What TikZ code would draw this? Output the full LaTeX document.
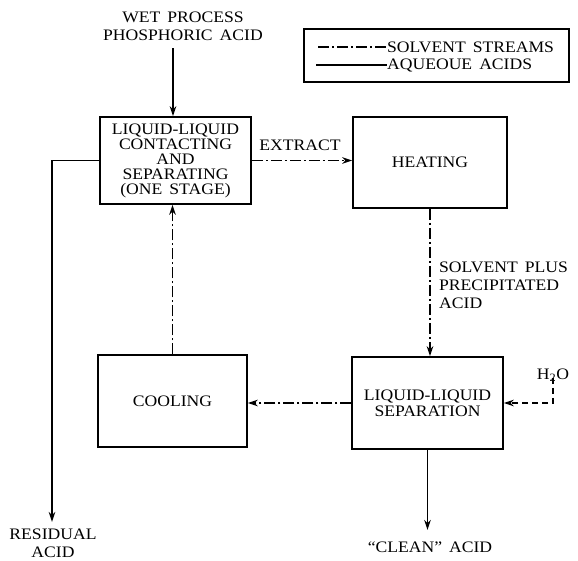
\documentclass[tikz,border=0pt]{standalone}
\usepackage{fontspec}
\setmainfont{Liberation Serif}[WordSpace=1.6, FakeStretch=1.1]
\usetikzlibrary{arrows.meta}
\begin{document}
\begin{tikzpicture}[x=1pt,y=-1pt,
  every node/.style={font=\fontsize{16}{15}\selectfont, inner sep=0pt, align=center},
  proc/.style={draw, line width=1.5pt, minimum width=#1},
  flow/.style={line width=1.7pt},
  solv/.style={line width=1.7pt, dash pattern=on 11pt off 3pt on 2pt off 3pt},
  wat/.style={line width=1.7pt, dash pattern=on 6pt off 4pt},
  tip/.style={-{Stealth[length=10pt,width=6.5pt]}},
  lbl/.style={font=\fontsize{16}{18}\selectfont}
]
\useasboundingbox (0,0) rectangle (578,560);

% process boxes
\node[proc=151pt, minimum height=87pt] (box1) at (175.5,160.5)
  {LIQUID-LIQUID\\CONTACTING\\AND\\SEPARATING\\(ONE STAGE)};
\node[proc=154pt, minimum height=91pt] (heat) at (430,162.5) {HEATING};
\node[proc=149pt, minimum height=92pt] (cool) at (172.5,401) {COOLING};
\node[proc=151pt, minimum height=92pt, font=\fontsize{16}{16}\selectfont] (sep) at (427.5,403) {LIQUID-LIQUID\\SEPARATION};

% labels
\node[lbl] (wet) at (183,26) {WET PROCESS\\PHOSPHORIC ACID};
\node[lbl] (extract) at (300,145) {EXTRACT};
\node[lbl, anchor=west, align=left] (splus) at (439,285) {SOLVENT PLUS\\PRECIPITATED\\ACID};
\node[lbl] (resid) at (53,543) {RESIDUAL\\ACID};
\node[lbl] (clean) at (430,547) {“CLEAN” ACID};
\node[lbl] (h2o) at (553,375) {H\textsubscript{2}O};

% end points
\coordinate (feed) at (173,48);
\coordinate (residend) at (52,522);
\coordinate (cleanend) at (427.5,530);

% connectors
\draw[flow,tip] (feed) -- (feed |- box1.north);
\draw[flow,tip] (box1.west) -| (residend);
\draw[solv,tip] (box1.east) -- (box1.east -| heat.west);
\draw[solv,tip] (heat.south) -- (heat.south |- sep.north);
\draw[solv,tip] (sep.west) -- (sep.west -| cool.east);
\draw[solv,tip] (cool.north) -- (cool.north |- box1.south);
\draw[flow,tip] (sep.south) -- (cleanend);
\draw[wat,tip] ([yshift=4pt]h2o.south) |- (sep.east);

% legend
\node[draw, line width=1.3pt, minimum width=265pt, minimum height=53pt] (legend) at (436.5,55.5) {};
\node[lbl, anchor=west] (leg1) at (387,47) {SOLVENT STREAMS};
\node[lbl, anchor=west] (leg2) at (387,65) {AQUEOUE ACIDS};
\coordinate (l1a) at (318,47);
\coordinate (l2a) at (316,65);
\draw[solv] (l1a) -- (leg1.west);
\draw[flow] (l2a) -- (leg2.west);
\end{tikzpicture}
\end{document}
